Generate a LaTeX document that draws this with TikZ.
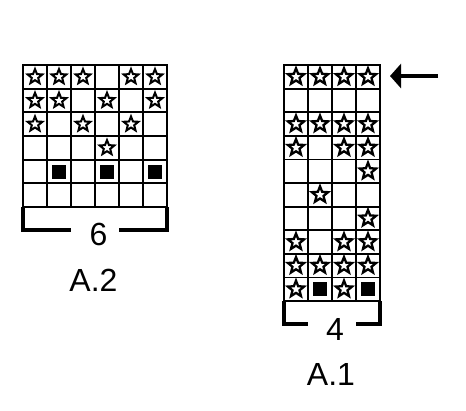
\documentclass[tikz,border=0pt]{standalone}
\usepackage{fontspec}
\setmainfont{Liberation Sans}
\usetikzlibrary{shapes.geometric,arrows.meta}
\begin{document}
\begin{tikzpicture}[x=1pt,y=-1pt,
  gridline/.style={line width=1.8pt, black, line cap=rect},
  starsym/.style={star, star points=5, star point ratio=2.3, draw, line width=2pt, inner sep=0pt, minimum size=15.5pt, fill=white, line join=miter},
  bigstar/.style={starsym, minimum size=17pt, line width=2.3pt},
  blk/.style={fill=black, minimum size=14pt, inner sep=0pt},
  bracket/.style={line width=3.6pt, line cap=butt, line join=miter},
  lbl/.style={font=\fontsize{32}{32}\selectfont, inner sep=0pt}]
\useasboundingbox (0,0) rectangle (466,410);
% ---------- A.2 ----------
\begin{scope}[shift={(23pt,-65pt)}, x=24pt, y=-23.67pt]
  \foreach \i in {0,...,6} \draw[gridline] (\i,0) -- (\i,6);
  \foreach \j in {0,...,6} \draw[gridline] (0,\j) -- (6,\j);
  \foreach \c/\r in {1/1,2/1,3/1,5/1,6/1, 1/2,2/2,4/2,6/2, 1/3,3/3,5/3, 4/4}
    \node[starsym] (a2s\c\r) at (\c-0.5,\r-0.5) {};
  \foreach \c in {2,4,6}
    \node[blk] (a2q\c) at (\c-0.5,4.5) {};
  \draw[bracket] (0,6) -- (0,6.97) -- (2,6.97);
  \draw[bracket] (4,6.97) -- (6,6.97) -- (6,6);
\end{scope}
\node[lbl] (n6) at (98.5,234) {6};
\node[lbl] (a2) at (93.5,280) {A.2};
% ---------- A.1 ----------
\begin{scope}[shift={(284pt,-65pt)}, x=24pt, y=-23.6pt]
  \foreach \i in {0,...,4} \draw[gridline] (\i,0) -- (\i,10);
  \foreach \j in {0,...,10} \draw[gridline] (0,\j) -- (4,\j);
  \foreach \c/\r in {1/1,2/1,3/1,4/1, 1/3,2/3,3/3,4/3, 1/4,3/4,4/4, 4/5, 2/6, 4/7,
                     1/8,3/8,4/8, 1/9,2/9,3/9,4/9, 1/10,3/10}
    \node[bigstar] (a1s\c\r) at (\c-0.5,\r-0.5) {};
  \foreach \c in {2,4}
    \node[blk] (a1q\c) at (\c-0.5,9.5) {};
  \draw[bracket] (0,10) -- (0,10.97) -- (1,10.97);
  \draw[bracket] (3,10.97) -- (4,10.97) -- (4,10);
\end{scope}
\node[lbl] (n4) at (335,329) {4};
\node[lbl] (a1) at (331,374) {A.1};
% ---------- arrow ----------
\coordinate (arrS) at (438,76);
\coordinate (arrE) at (390,76);
\draw[line width=3.6pt, -{Triangle[length=11pt,width=24pt]}] (arrS) -- (arrE);
\end{tikzpicture}
\end{document}
